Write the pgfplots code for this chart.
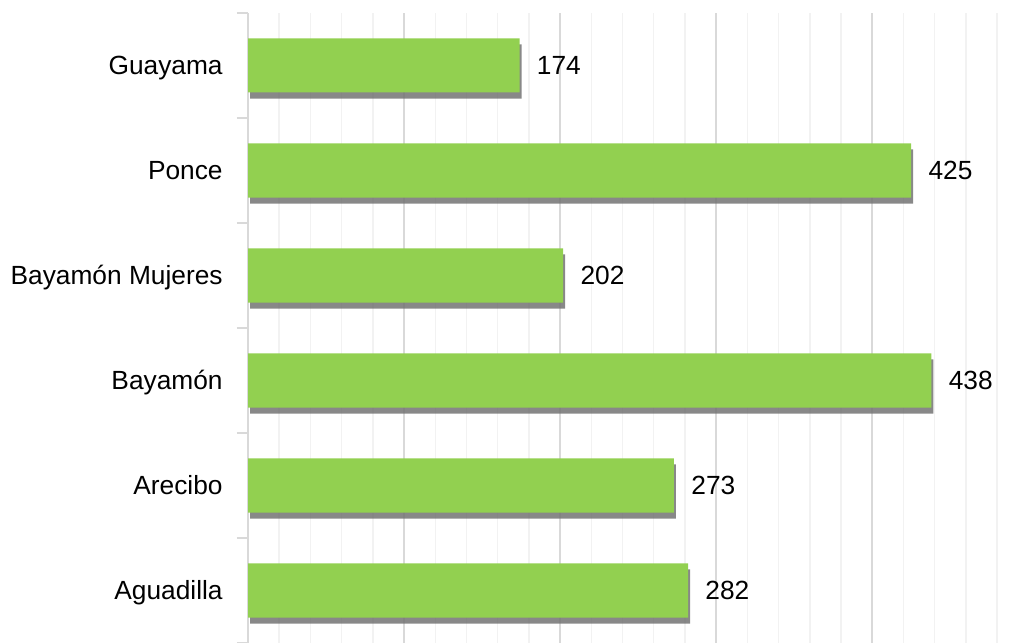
\documentclass[border=0pt]{standalone}
\usepackage{pgfplots}
\pgfplotsset{compat=1.18}
\usepackage{fontspec}
\setmainfont{Liberation Sans}
\usetikzlibrary{shadows}
\definecolor{bargreen}{HTML}{92D050}
\definecolor{majgrid}{HTML}{D9D9D9}
\definecolor{mingrid}{HTML}{F2F2F2}

\begin{document}
\begin{tikzpicture}
\begin{axis}[
  at={(124bp,0bp)}, anchor=south west,
  scale only axis, width=374.5bp, height=315bp,
  xbar, bar width=27bp,
  xmin=0, xmax=480, ymin=-0.5, ymax=5.5,
  axis lines=left,
  x axis line style={draw=none},
  y axis line style={-, draw=majgrid, line width=0.75bp},
  xtick={0,100,...,400}, minor xtick={20,40,...,480},
  xticklabels={}, xtick style={draw=none},
  xmajorgrids, xminorgrids,
  major grid style={draw=majgrid, line width=0.9bp},
  minor grid style={draw=mingrid, line width=0.75bp},
  ytick={0,...,5},
  yticklabels={Aguadilla,Arecibo,Bayamón,Bayamón Mujeres,Ponce,Guayama},
  minor ytick={-0.5,0.5,...,5.5},
  tick align=outside, major tick length=0pt, minor tick length=5.5bp,
  ytick style={draw=majgrid, line width=0.75bp},
  yticklabel style={font=\fontsize{13.2}{15}\selectfont, inner sep=0pt,
    anchor=base east, xshift=-12.5bp, yshift=-4.7bp},
  nodes near coords,
  /pgf/number format/assume math mode=true,
  every node near coord/.append style={font=\fontsize{13.2}{15}\selectfont,
    inner sep=0pt, xshift=8.5bp, text=black},
]
\addplot[fill=bargreen, draw=none,
  drop shadow={shadow xshift=1bp, shadow yshift=-3bp, fill=black!55, opacity=0.85}]
  coordinates {(282,0) (273,1) (438,2) (202,3) (425,4) (174,5)};
\end{axis}
\pgfresetboundingbox
\path[use as bounding box] (0,0) rectangle (513bp,321.5bp);
\end{tikzpicture}
\end{document}
